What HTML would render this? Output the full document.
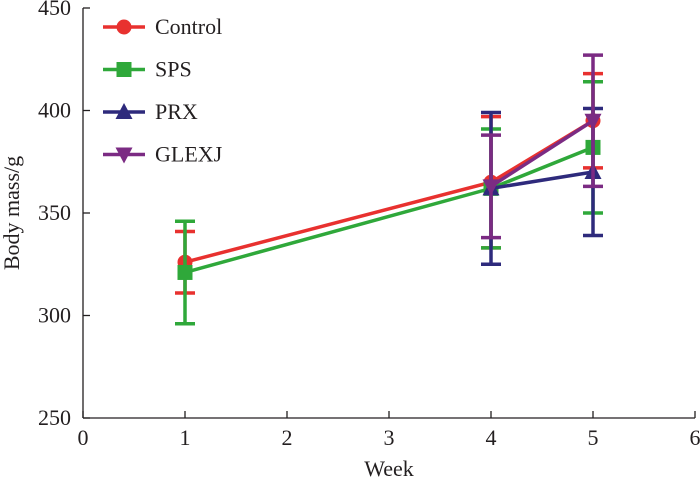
<!DOCTYPE html>
<html><head><meta charset="utf-8"><style>
body{margin:0;background:#fff}
svg text{font-family:"Liberation Serif",serif;fill:#231f20}
</style></head><body>
<svg id="c" width="700" height="481" xmlns="http://www.w3.org/2000/svg"></svg>
<script>
const weeks=[1,4,5];
const seriesNames=["Control","SPS","PRX","GLEXJ"];
const colors=["#e8312f","#2fa83a","#2e2a7c","#7b2b83"];
const controlMean=[326,365,395];
const controlErr=[15,32,23];
const spsMean=[321,362,382];
const spsErr=[25,29,32];
const prxMean=[null,362,370];
const prxErr=[null,37,31];
const glexjMean=[null,363,395];
const glexjErr=[null,25,32];
const xTicks=[0,1,2,3,4,5,6];
const yTicks=[250,300,350,400,450];
const means=[controlMean,spsMean,prxMean,glexjMean];
const errs=[controlErr,spsErr,prxErr,glexjErr];
const markers=["circle","square","tri","itri"];
const X=v=>83+v*102, Y=v=>418-(v-250)*2.05;
const svg=document.getElementById('c');
const NS="http://www.w3.org/2000/svg";
function mk(t,a,p){const e=document.createElementNS(NS,t);for(const k in a)e.setAttribute(k,a[k]);(p||svg).appendChild(e);return e;}
let ax=mk('g',{});


mk('line',{x1:83,y1:Y(450),x2:83,y2:418,stroke:'#231f20','stroke-width':1.3},ax);
mk('line',{x1:83,y1:418,x2:X(6),y2:418,stroke:'#231f20','stroke-width':1.3},ax);
xTicks.forEach(t=>{mk('line',{x1:X(t),y1:418,x2:X(t),y2:411,stroke:'#231f20','stroke-width':1.3},ax);
const tx=mk('text',{x:X(t),y:445,'font-size':22,'text-anchor':'middle'},ax);tx.textContent=t;

});
yTicks.forEach(t=>{mk('line',{x1:83,y1:Y(t),x2:90,y2:Y(t),stroke:'#231f20','stroke-width':1.3},ax);
const tx=mk('text',{x:71,y:Y(t)+7,'font-size':22,'text-anchor':'end'},ax);tx.textContent=t;

});
let xt=mk('text',{x:389,y:476,'font-size':22,'text-anchor':'middle'});xt.textContent='Week';


let yt=mk('text',{x:0,y:0,'font-size':22,'text-anchor':'middle',transform:'translate(19,213) rotate(-90)'});yt.textContent='Body mass/g';


function marker(kind,x,y,c,p){
 if(kind==='circle')mk('circle',{cx:x,cy:y,r:7.5,fill:c},p);
 else if(kind==='square')mk('rect',{x:x-7.5,y:y-7.5,width:15,height:15,fill:c},p);
 else if(kind==='tri')mk('polygon',{points:`${x},${y-9} ${x-8.5},${y+7} ${x+8.5},${y+7}`,fill:c},p);
 else mk('polygon',{points:`${x},${y+9} ${x-8.5},${y-7} ${x+8.5},${y-7}`,fill:c},p);
}
means.forEach((m,s)=>{
 const g=mk('g',{});
 
 
 const c=colors[s];
 const pts=weeks.map((w,i)=>m[i]==null?null:[X(w),Y(m[i])]).filter(p=>p);
 mk('polyline',{points:pts.map(p=>p.join(',')).join(' '),fill:'none',stroke:c,'stroke-width':3.5},g);
 weeks.forEach((w,i)=>{if(m[i]==null)return;const x=X(w),e=errs[s][i];
  mk('line',{x1:x,y1:Y(m[i]+e),x2:x,y2:Y(m[i]-e),stroke:c,'stroke-width':3.5},g);
  [m[i]+e,m[i]-e].forEach(v=>mk('line',{x1:x-10,y1:Y(v),x2:x+10,y2:Y(v),stroke:c,'stroke-width':3.5},g));
  marker(markers[s],x,Y(m[i]),c,g);
 });
 const lg=mk('g',{});
 
 
 const ly=27+s*42.5;
 mk('line',{x1:103,y1:ly,x2:145,y2:ly,stroke:c,'stroke-width':3.5},lg);
 marker(markers[s],124,ly,c,lg);
 const t=mk('text',{x:155,y:ly+7,'font-size':22},lg);t.textContent=seriesNames[s];
});
</script>
</body></html>
